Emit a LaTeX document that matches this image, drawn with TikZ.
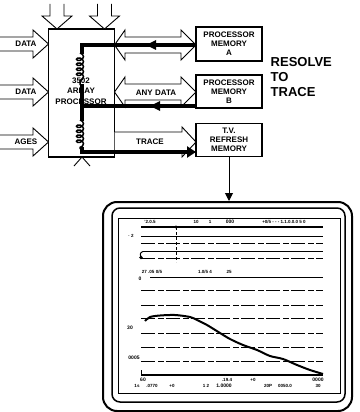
\documentclass[tikz,border=0pt]{standalone}
\usepackage{fontspec}
\setmainfont{Liberation Sans}
\usetikzlibrary{decorations.pathmorphing,arrows.meta}
\begin{document}
\begin{tikzpicture}[x=1pt,y=-1pt,
  hollow/.style={draw=black,fill=white,line width=0.9pt,line join=miter},
  bus/.style={draw=black,line width=4pt,line join=miter},
  coilline/.style={draw=black,line width=1.5pt,decorate,decoration={coil,aspect=0.7,segment length=5pt,amplitude=3.5pt}},
  lbl/.style={font=\fontsize{8}{9}\selectfont\bfseries,inner sep=0pt,align=center},
  boxed/.style={draw=black,line width=1.3pt,fill=white,inner sep=0pt},
  scr/.style={font=\fontsize{4.5}{5}\selectfont\bfseries,inner sep=0pt},
  scrb/.style={font=\fontsize{5}{5}\selectfont\bfseries,inner sep=0pt},
  gridln/.style={line width=1pt,dash pattern=on 14pt off 3pt on 6pt off 2pt},
]
\useasboundingbox (0,0) rectangle (359,412);

% array processor box
\node[boxed, minimum width=66pt, minimum height=128pt] (ap) at (81.5,93) {};
\node[lbl, font=\fontsize{8}{10.5}\selectfont\bfseries] (aptext) at (81,91) {3502\\ARRAY\\PROCESSOR};

% left input arrows
\foreach \c/\t in {44/DATA,92/DATA,142/AGES}{
  \draw[hollow] (-3,\c-7) -- (33,\c-7) -- (33,\c-14) -- (48.5,\c) -- (33,\c+14) -- (33,\c+7) -- (-3,\c+7);
  \node[lbl] (in\c) at (26,\c) {\t};
}
% top input arrows
\foreach \x in {57,104.5}{
  \draw[hollow] (\x-7,4) -- (\x-7,16) -- (\x-15,16) -- (\x,29) -- (\x+15,16) -- (\x+7,16) -- (\x+7,4);
}
% bottom stub
\draw[line width=0.9pt] (74,166) -- (82,157) -- (90,166);

% right hollow arrows
\draw[hollow] (114.5,45) -- (125,30) -- (125,37) -- (181,37) -- (181,30) -- (196,45) -- (181,60) -- (181,53) -- (125,53) -- (125,60) -- cycle;
\draw[hollow] (114.5,92) -- (125,77) -- (125,84) -- (181,84) -- (181,77) -- (196,92) -- (181,107) -- (181,100) -- (125,100) -- (125,107) -- cycle;
\draw[hollow] (114.5,132) -- (182,132) -- (182,127) -- (196,142) -- (182,157) -- (182,152) -- (114.5,152);
\node[lbl] (anydata) at (156,93) {ANY DATA};
\node[lbl] (trace) at (150,142) {TRACE};

% buses and coils
\coordinate (a1) at (196,45); \coordinate (a2) at (82,45); \coordinate (a3) at (82,54);
\draw[bus] (a1) -- (a2) -- (a3);
\draw[coilline] (80,53) -- (80,85);
\coordinate (b1) at (82,84); \coordinate (b2) at (82,121);
\draw[bus] (b1) -- (b2);
\coordinate (bm) at (196,106); \coordinate (bj) at (82,106);
\draw[bus] (bm) -- (bj);
\draw[coilline] (80,120) -- (80,149);
\coordinate (c1) at (82,147); \coordinate (c2) at (82,152); \coordinate (c3) at (196,152);
\draw[bus, -{Triangle[length=9pt,width=11pt]}] (c1) -- (c2) -- (c3);
\fill (146,45) -- (156,40) -- (156,50) -- cycle;
\fill (150,106) -- (160,101) -- (160,111) -- cycle;

% memory boxes
\node[boxed, lbl, minimum width=66pt, minimum height=34pt] (memA) at (229,44) {PROCESSOR\\MEMORY\\A};
\node[boxed, lbl, minimum width=66pt, minimum height=33pt] (memB) at (229,91.5) {PROCESSOR\\MEMORY\\B};
\node[boxed, lbl, minimum width=66pt, minimum height=33pt] (tv) at (229,140) {T.V.\\REFRESH\\MEMORY};

\node[font=\fontsize{13}{15}\selectfont\bfseries, align=left, anchor=north west, inner sep=0pt] (resolve) at (270.5,57) {RESOLVE\\TO\\TRACE};

% screen
\node[draw, line width=2pt, rounded corners=14pt, minimum width=249pt, minimum height=209pt, inner sep=0pt] (screen) at (227.5,306.5) {};
\draw[line width=1pt, -{Triangle[length=8pt,width=8pt]}] (tv.south) -- (tv.south |- screen.north);
\draw[line width=1.5pt, rounded corners=8pt] (112,208) rectangle (345,402);
\draw[line width=1pt] (118,218) rectangle (340,393);

% plot grid
\draw[line width=1.2pt] (141,227) -- (323,227);
\fill (176,227) circle (1.6pt);
\draw[line width=1pt] (141,236) -- (323,236);
\draw[gridln] (141,243.5) -- (323,243.5);
\draw[line width=1pt] (143,251.5) -- (323,251.5);
\draw[line width=1pt] (143,251.5) .. controls (140,253) .. (141,258);
\fill (141,257.5) circle (1.8pt);
\draw[gridln] (141,258.5) -- (323,258.5);
\draw[line width=0.6pt, dash pattern=on 3pt off 2pt] (176,227) -- (176,262);
\draw[line width=1pt] (150,277) -- (323,277);
\foreach \yy in {290,305,318,333,347,361} \draw[gridln] (141,\yy) -- (323,\yy);
\draw[line width=1.1pt] (141,375) -- (323,375);
\draw[line width=0.6pt] (141,370) -- (141,375);

% plot curve
\draw[line width=2pt, line join=round] plot[smooth, tension=0.5] coordinates {(145,321) (150,317) (160,315.5) (175,315) (190,317) (197,320) (207,325) (220,333) (230,339) (243,345) (257,350) (270,356) (283,359) (297,365) (310,370) (323,374)};

% screen texts
\node[scr] (s1) at (150,222) {'2.0.5};
\node[scr] (s2) at (196,222) {10};
\node[scr] (s3) at (210,222) {1};
\node[scrb] (s4) at (230,222) {000};
\node[scr] (s5) at (284,222) {+0/5 - - - 1.1.0.0.0 5 0};
\node[scr] (s6) at (131,236) {· 2};
\node[scr] (s7) at (152,272) {27 .05 0/5};
\node[scr] (s8) at (205,272) {1.0/5 4};
\node[scr] (s9) at (229,272) {25};
\node[scrb] (s10) at (140,279) {0};
\node[scrb] (s11) at (130,328) {30};
\node[scrb] (s12) at (134,358) {0005};
\node[scrb] (s13) at (143,380) {60};
\node[scr] (s14) at (227,380) {.19.4};
\node[scr] (s15) at (253,380) {+0};
\node[scrb] (s16) at (318,380) {0000};
\node[scr] (s17) at (137,386) {1s};
\node[scr] (s18) at (152,386) {.0770};
\node[scr] (s19) at (172,386) {+0};
\node[scr] (s20) at (206,386) {1 2};
\node[scrb] (s21) at (224,386) {1.0000};
\node[scr] (s22) at (268,386) {20P};
\node[scr] (s23) at (285,386) {0050.0};
\node[scr] (s24) at (318,386) {30};
\end{tikzpicture}
\end{document}
